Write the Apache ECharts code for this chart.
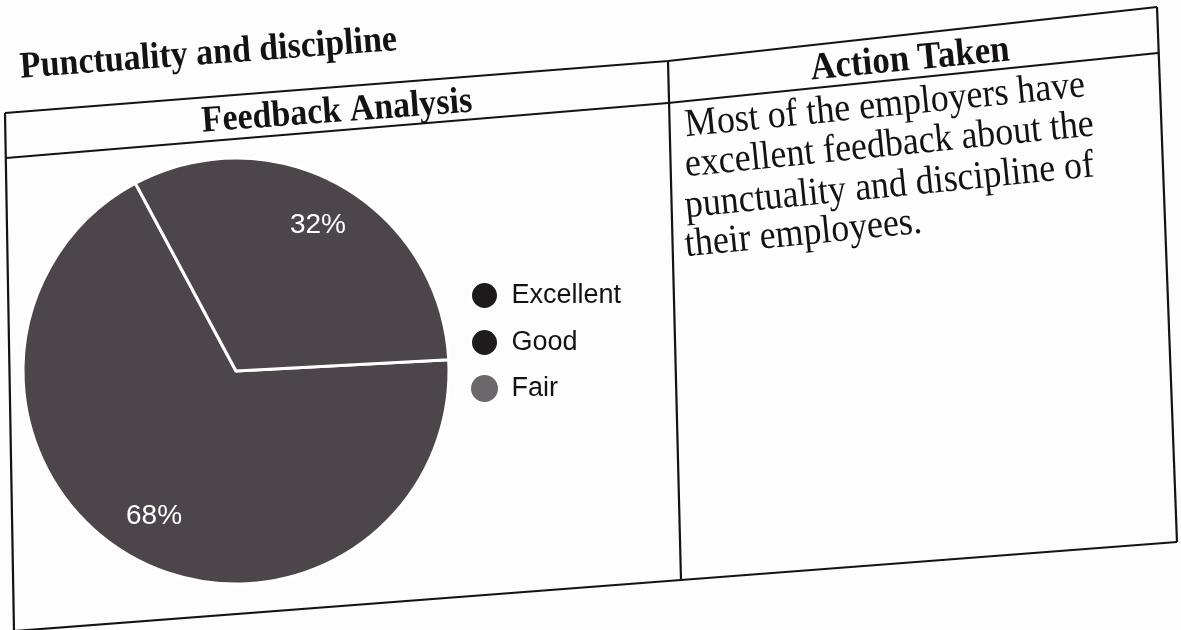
<!DOCTYPE html>
<html>
<head>
<meta charset="utf-8">
<script src="https://cdn.jsdelivr.net/npm/echarts@6/dist/echarts.min.js"></script>
<style>
html,body{margin:0;padding:0;background:#fdfdfd;}
#chart{width:1181px;height:630px;}
</style>
</head>
<body>
<div id="chart"></div>
<script>
// ---- data ----
const categories = ['Excellent', 'Good', 'Fair'];
const values = [68, 32, 0];
const pageTitle = 'Punctuality and discipline';
const leftHeader = 'Feedback Analysis';
const rightHeader = 'Action Taken';
const actionLines = [
  'Most of the employers have',
  'excellent feedback about the',
  'punctuality and discipline of',
  'their employees.'
];

// ---- styles ----
const sliceColor = '#4c464a';
const legendColors = ['#1d1a1c', '#1f1c1e', '#6c676b'];
const ink = '#151214';
const serif = '"Liberation Serif", "Times New Roman", serif';
const sans = '"Liberation Sans", Arial, sans-serif';

const chart = echarts.init(document.getElementById('chart'), null, {renderer: 'canvas'});

const pieCenter = [236, 371];
const pieR = 213;

const sliceData = categories.map((c, i) => ({
  name: c,
  value: values[i],
  itemStyle: {color: sliceColor, borderWidth: values[i] === 0 ? 0 : 3, borderColor: '#ffffff'}
}));
const labelData = categories.map((c, i) => ({
  name: c,
  value: values[i],
  label: {show: values[i] !== 0}
}));

function line(points) {
  return {
    type: 'polyline',
    shape: {points: points},
    style: {stroke: ink, lineWidth: 2.2, fill: null},
    silent: true
  };
}
function txt(x, y, text, font, rot, align) {
  return {
    type: 'text',
    x: x, y: y, rotation: rot, scaleY: 1.1,
    style: {text: text, x: 0, y: 0, font: font, fill: ink, textAlign: align || 'left', textVerticalAlign: 'middle'},
    silent: true
  };
}

const graphics = [
  line([[5,113],[668,61],[1157,7]]),
  line([[6,158],[668,103],[1158,53]]),
  line([[14,631],[681,580],[1177,542]]),
  line([[5,113],[14,631]]),
  line([[668,61],[681,580]]),
  line([[1157,7],[1177,542]]),
  txt(20, 68, pageTitle, 'bold 34px ' + serif, 0.073),
  txt(337, 112, leftHeader, 'bold 34px ' + serif, 0.074, 'center'),
  txt(910, 60, rightHeader, 'bold 35px ' + serif, 0.095, 'center')
];
const lineBaseY = [126, 166, 207, 246];
actionLines.forEach((t, i) => {
  graphics.push(txt(685, lineBaseY[i], t, '36px ' + serif, 0.1));
});

chart.setOption({
  backgroundColor: '#fdfdfd',
  animation: false,
  legend: {
    orient: 'vertical',
    left: 470,
    top: 281,
    padding: 0,
    itemWidth: 44,
    itemHeight: 27,
    itemGap: 18,
    icon: 'circle',
    selectedMode: false,
    textStyle: {fontFamily: sans, fontSize: 27, color: ink, padding: [0,0,0,0]},
    data: categories.map((c, i) => ({name: c, itemStyle: {color: legendColors[i]}}))
  },
  series: [
    {
      type: 'pie',
      center: pieCenter,
      radius: pieR,
      startAngle: 3,
      clockwise: true,
      silent: true,
      label: {show: false},
      labelLine: {show: false},
      data: sliceData
    },
    {
      type: 'pie',
      center: pieCenter,
      radius: [pieR * 0.54, pieR],
      startAngle: 3,
      clockwise: true,
      silent: true,
      itemStyle: {color: 'rgba(0,0,0,0)', borderWidth: 0},
      label: {
        show: true,
        position: 'inside',
        formatter: '{c}%',
        color: '#ffffff',
        fontFamily: sans,
        fontSize: 28
      },
      labelLine: {show: false},
      data: labelData
    }
  ],
  graphic: graphics
});
</script>
</body>
</html>
